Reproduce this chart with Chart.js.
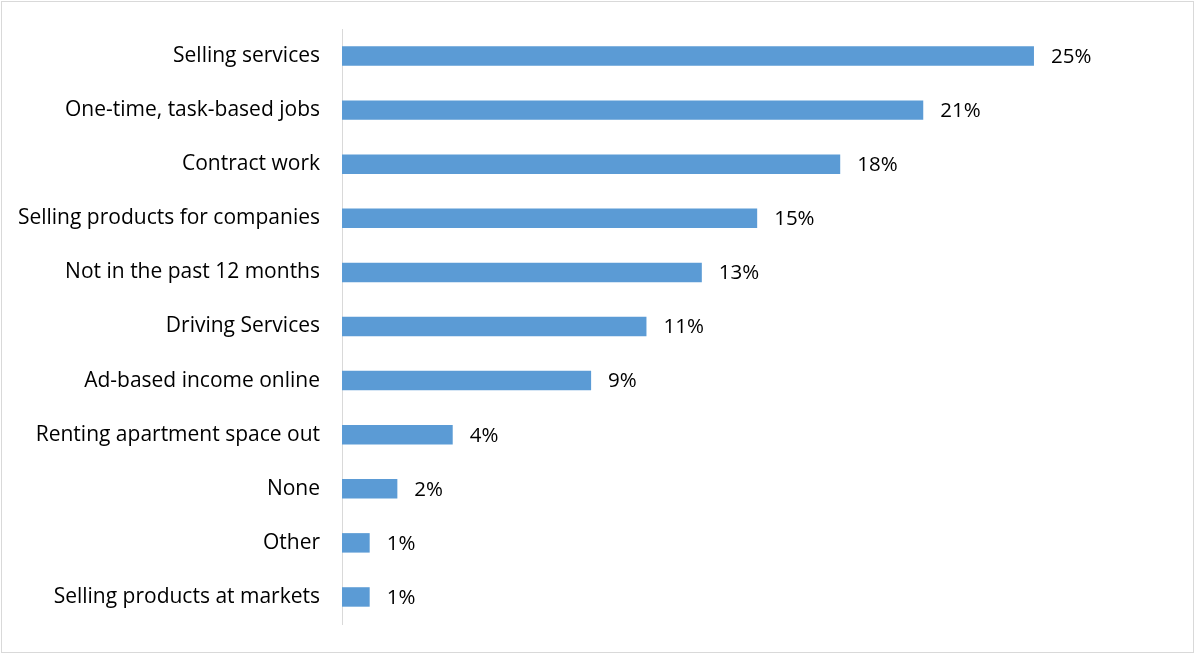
<!DOCTYPE html>
<html>
<head>
<meta charset="utf-8">
<script src="https://cdn.jsdelivr.net/npm/chart.js@4/dist/chart.umd.min.js"></script>
<style>
  html, body { margin: 0; padding: 0; background: #ffffff; }
  #wrap { position: relative; width: 1195px; height: 654px; }
</style>
</head>
<body>
<div id="wrap"><canvas id="chart" width="1195" height="654"></canvas></div>
<script>
// Share of respondents by type of side income activity
const categories = [
  "Selling services",
  "One-time, task-based jobs",
  "Contract work",
  "Selling products for companies",
  "Not in the past 12 months",
  "Driving Services",
  "Ad-based income online",
  "Renting apartment space out",
  "None",
  "Other",
  "Selling products at markets"
];
const shares = [25, 21, 18, 15, 13, 11, 9, 4, 2, 1, 1];

const FONT = "'Open Sans', Lato, sans-serif";

// Thin grey frame around the whole figure
const framePlugin = {
  id: 'frame',
  beforeDraw(chart) {
    const ctx = chart.ctx;
    ctx.save();
    ctx.fillStyle = '#ffffff';
    ctx.fillRect(0, 0, chart.width, chart.height);
    ctx.strokeStyle = '#d9d9d9';
    ctx.lineWidth = 1;
    ctx.strokeRect(1.5, 1.5, chart.width - 3, chart.height - 3);
    ctx.restore();
  }
};

// Percentage labels just past the end of each bar
const valueLabels = {
  id: 'valueLabels',
  afterDatasetsDraw(chart) {
    const ctx = chart.ctx;
    const meta = chart.getDatasetMeta(0);
    ctx.save();
    ctx.font = "20.5px " + FONT;
    ctx.fillStyle = '#000000';
    ctx.textAlign = 'left';
    ctx.textBaseline = 'middle';
    meta.data.forEach((bar, i) => {
      ctx.fillText(shares[i] + '%', bar.x + 17, bar.y + 1);
    });
    ctx.restore();
  }
};

new Chart(document.getElementById('chart'), {
  type: 'bar',
  data: {
    labels: categories,
    datasets: [{
      data: shares,
      backgroundColor: '#5b9bd5',
      borderWidth: 0,
      categoryPercentage: 1.0,
      barPercentage: 0.36
    }]
  },
  options: {
    indexAxis: 'y',
    responsive: false,
    animation: false,
    devicePixelRatio: 1,
    layout: { padding: { top: 29, bottom: 30, left: 0, right: 78 } },
    plugins: {
      legend: { display: false },
      tooltip: { enabled: false }
    },
    scales: {
      x: {
        display: false,
        min: 0,
        max: 28
      },
      y: {
        afterFit(scale) {
          scale.width = 342;
          scale.paddingTop = 0;
          scale.paddingBottom = 0;
        },
        grid: { display: false, drawTicks: false },
        border: { display: true, color: '#d9d9d9', width: 1 },
        ticks: {
          padding: 22,
          color: '#000000',
          font: { family: FONT, size: 21 }
        }
      }
    }
  },
  plugins: [framePlugin, valueLabels]
});
</script>
</body>
</html>
